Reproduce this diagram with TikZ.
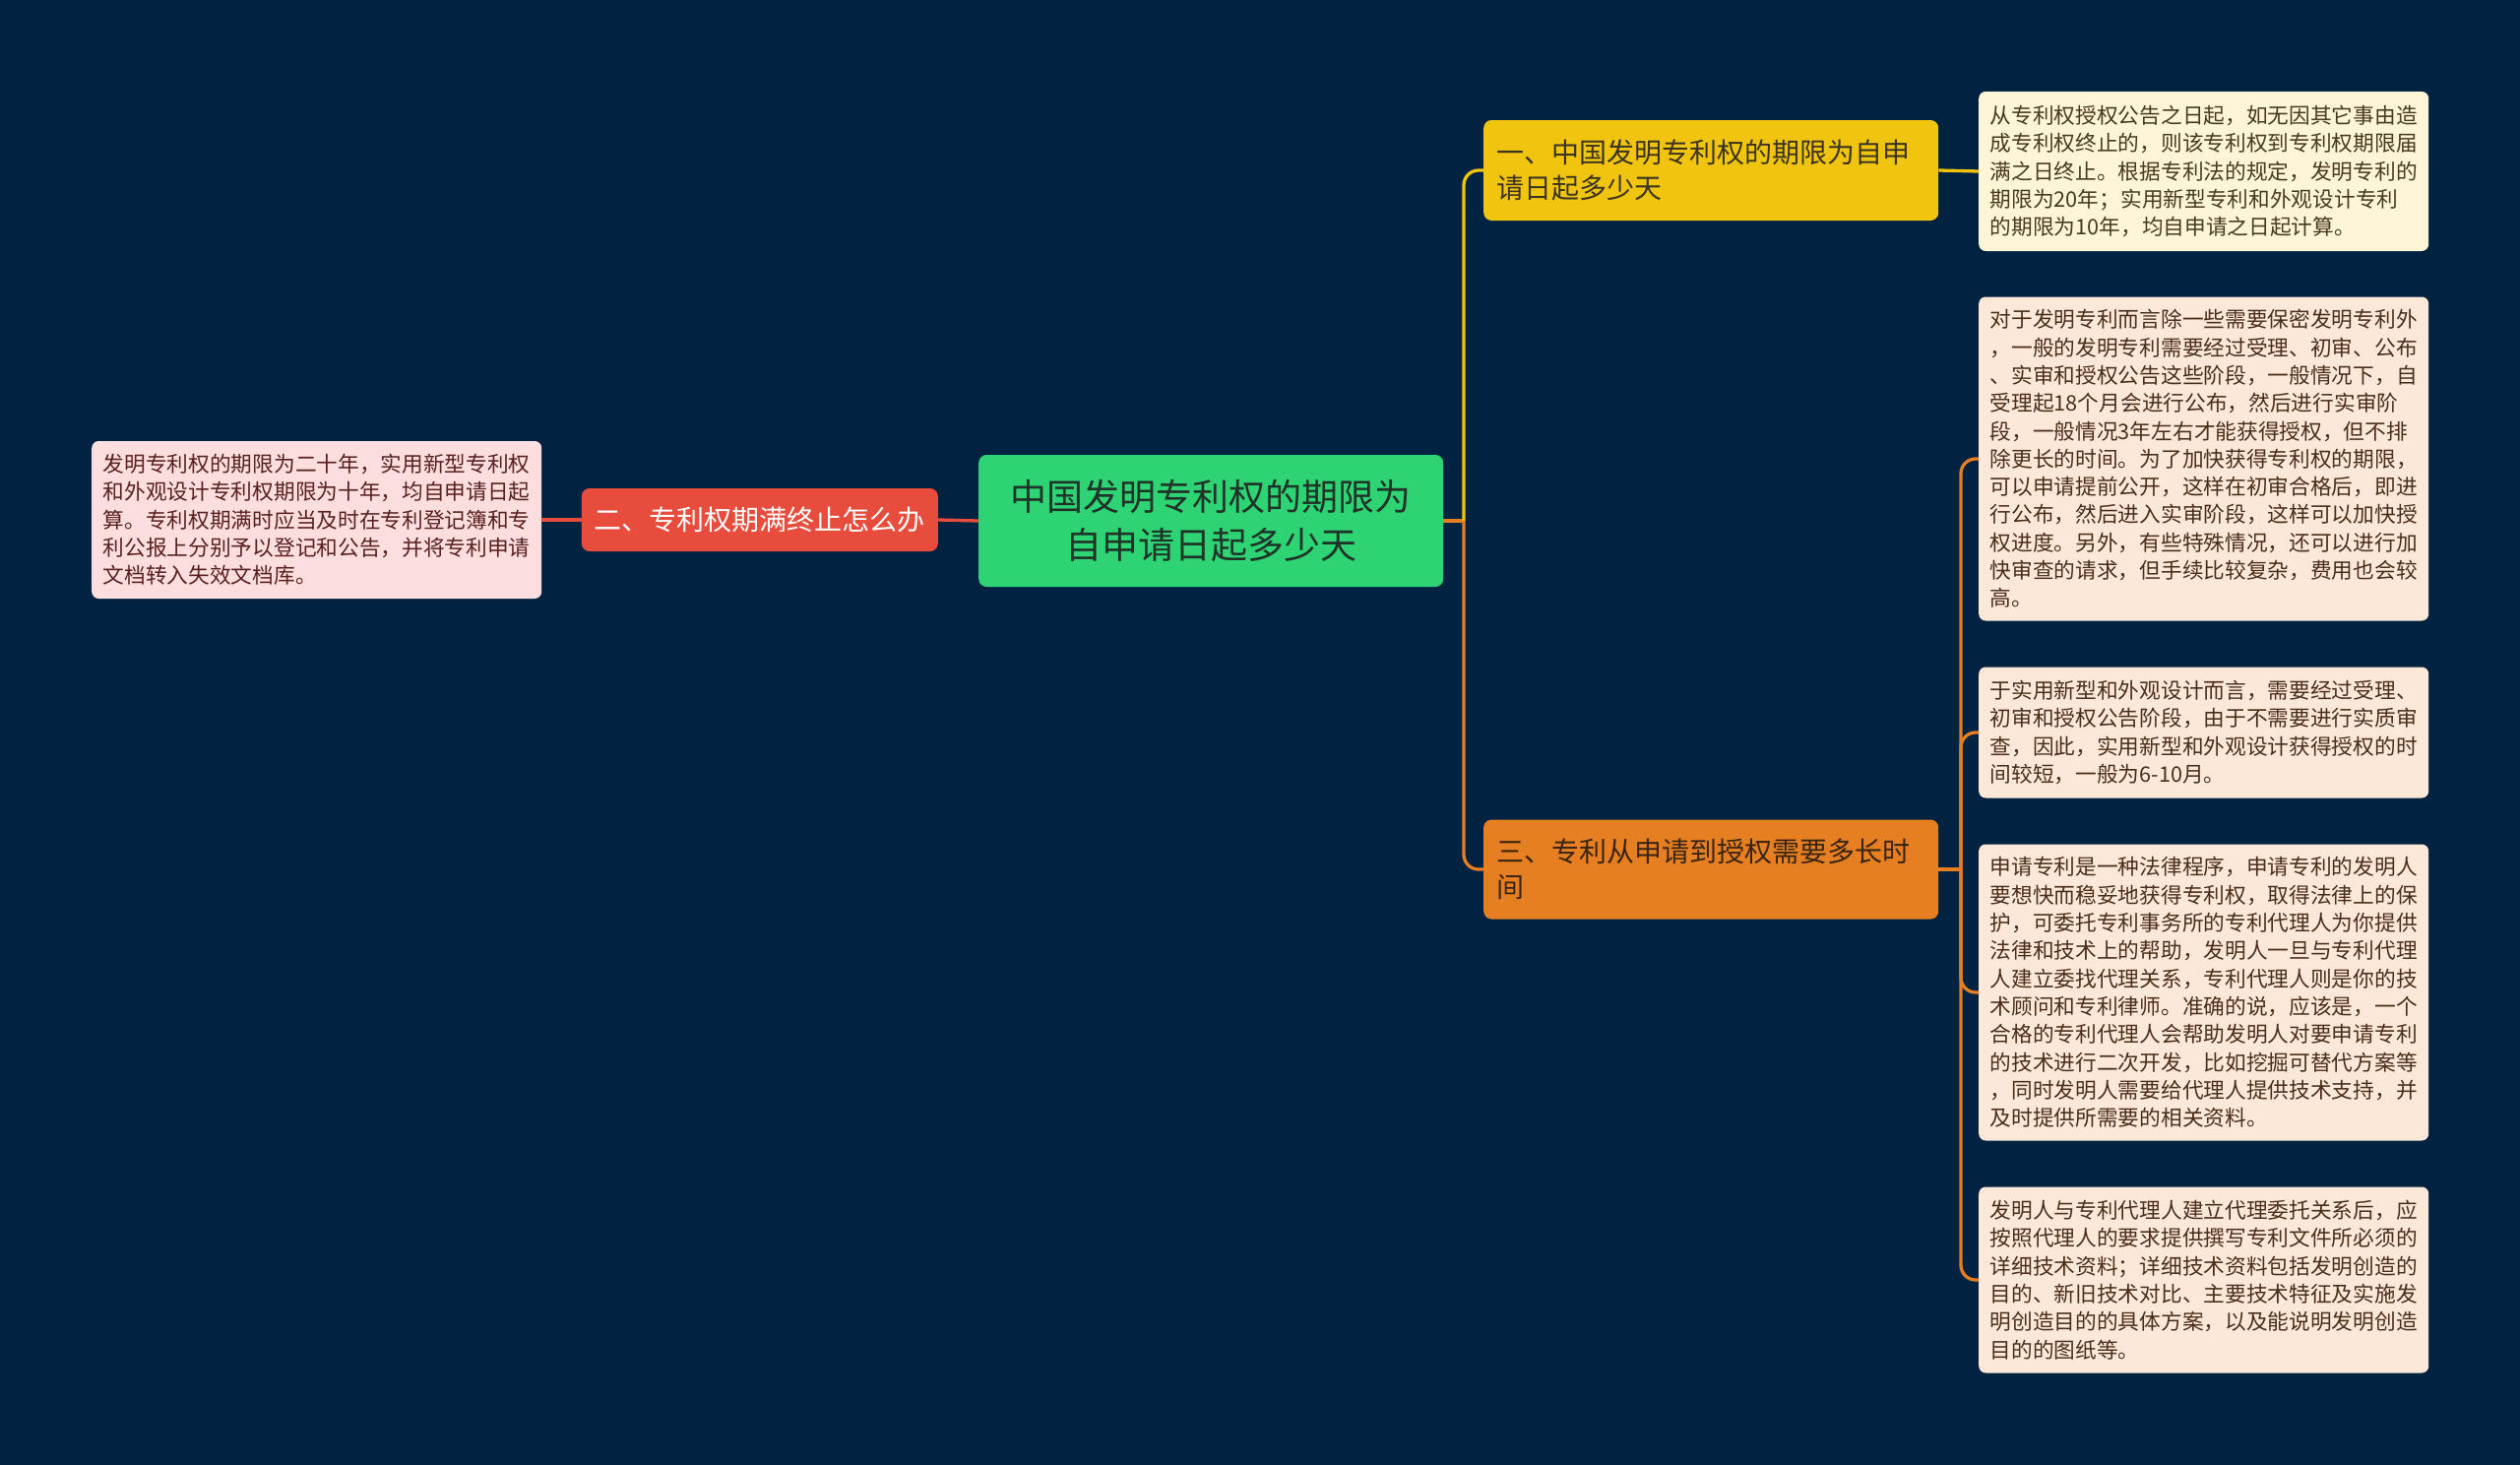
\documentclass[tikz,border=0pt]{standalone}
\usepackage{fontspec}
\setmainfont{Noto Sans CJK SC}
\definecolor{bgc}{RGB}{1,34,64}
\definecolor{rootc}{HTML}{2ED373}
\definecolor{roottxt}{HTML}{1F3328}
\definecolor{redc}{HTML}{E74C3C}
\definecolor{yelc}{HTML}{F1C40F}
\definecolor{yeltxt}{HTML}{3A3420}
\definecolor{orac}{HTML}{E67E22}
\definecolor{oratxt}{HTML}{3A2412}
\definecolor{leafY}{HTML}{FDF5D6}
\definecolor{leafYtxt}{HTML}{4A3A1C}
\definecolor{leafO}{HTML}{FCE8D8}
\definecolor{leafOtxt}{HTML}{4A2E1A}
\definecolor{leafR}{HTML}{FBDEDD}
\definecolor{leafRtxt}{HTML}{5A2020}
\tikzset{
  leafbox/.style={rounded corners=7pt, anchor=west, text width=434pt, inner xsep=11.5pt, inner ysep=6pt, align=left, font=\fontsize{21.7}{28.3}\selectfont},
  topicbox/.style={rounded corners=8pt, anchor=west, inner xsep=13pt, inner ysep=6pt, font=\fontsize{28}{36}\selectfont},
  conn/.style={line width=3.3pt},
}
\begin{document}
\begin{tikzpicture}[x=1pt,y=-1pt]
\fill[bgc] (0,0) rectangle (2560,1488);
\useasboundingbox (0,0) rectangle (2560,1488);

% root
\node[topicbox, fill=rootc, text=roottxt, minimum width=472pt, minimum height=134pt, align=center, font=\fontsize{37}{49}\selectfont] (root) at (994,529) {中国发明专利权的期限为\\自申请日起多少天};

% first level
\node[topicbox, fill=yelc, text=yeltxt, text width=436pt, minimum height=102pt, align=left] (yel) at (1507,173) {一、中国发明专利权的期限为自申\\请日起多少天};
\node[topicbox, fill=orac, text=oratxt, text width=436pt, minimum height=101pt, align=left] (ora) at (1507,883) {三、专利从申请到授权需要多长时\\间};
\node[topicbox, fill=redc, text=white, minimum width=362pt, minimum height=64pt, align=center, anchor=east] (red) at (953,528) {二、专利权期满终止怎么办};

% leaves
\node[leafbox, fill=leafY, text=leafYtxt, minimum height=162pt] (l1) at (2010,174) {从专利权授权公告之日起，如无因其它事由造\\成专利权终止的，则该专利权到专利权期限届\\满之日终止。根据专利法的规定，发明专利的\\期限为20年；实用新型专利和外观设计专利\\的期限为10年，均自申请之日起计算。};

\node[leafbox, fill=leafO, text=leafOtxt, minimum height=329pt] (l2) at (2010,466) {对于发明专利而言除一些需要保密发明专利外\\，一般的发明专利需要经过受理、初审、公布\\、实审和授权公告这些阶段，一般情况下，自\\受理起18个月会进行公布，然后进行实审阶\\段，一般情况3年左右才能获得授权，但不排\\除更长的时间。为了加快获得专利权的期限，\\可以申请提前公开，这样在初审合格后，即进\\行公布，然后进入实审阶段，这样可以加快授\\权进度。另外，有些特殊情况，还可以进行加\\快审查的请求，但手续比较复杂，费用也会较\\高。};

\node[leafbox, fill=leafO, text=leafOtxt, minimum height=133pt] (l3) at (2010,744) {于实用新型和外观设计而言，需要经过受理、\\初审和授权公告阶段，由于不需要进行实质审\\查，因此，实用新型和外观设计获得授权的时\\间较短，一般为6-10月。};

\node[leafbox, fill=leafO, text=leafOtxt, minimum height=301pt] (l4) at (2010,1008) {申请专利是一种法律程序，申请专利的发明人\\要想快而稳妥地获得专利权，取得法律上的保\\护，可委托专利事务所的专利代理人为你提供\\法律和技术上的帮助，发明人一旦与专利代理\\人建立委找代理关系，专利代理人则是你的技\\术顾问和专利律师。准确的说，应该是，一个\\合格的专利代理人会帮助发明人对要申请专利\\的技术进行二次开发，比如挖掘可替代方案等\\，同时发明人需要给代理人提供技术支持，并\\及时提供所需要的相关资料。};

\node[leafbox, fill=leafO, text=leafOtxt, minimum height=189pt] (l5) at (2010,1300) {发明人与专利代理人建立代理委托关系后，应\\按照代理人的要求提供撰写专利文件所必须的\\详细技术资料；详细技术资料包括发明创造的\\目的、新旧技术对比、主要技术特征及实施发\\明创造目的的具体方案，以及能说明发明创造\\目的的图纸等。};

\node[leafbox, fill=leafR, text=leafRtxt, minimum height=160pt] (lr) at (93,528) {发明专利权的期限为二十年，实用新型专利权\\和外观设计专利权期限为十年，均自申请日起\\算。专利权期满时应当及时在专利登记簿和专\\利公报上分别予以登记和公告，并将专利申请\\文档转入失效文档库。};

% junctions
\coordinate (jr) at (1487,529);
\coordinate (jo) at (1992,883);

% connectors
\draw[conn, redc] (root.west) -- (red.east);
\draw[conn, redc] (red.west) -- (lr.east);
\draw[conn, orac] (root.east) -- (jr);
\draw[conn, yelc, rounded corners=15pt] (jr) |- (yel.west);
\draw[conn, orac, rounded corners=15pt] (jr) |- (ora.west);
\draw[conn, yelc] (yel.east) -- (l1.west);
\draw[conn, orac] (ora.east) -- (jo);
\draw[conn, orac, rounded corners=15pt] (jo) |- (l2.west);
\draw[conn, orac, rounded corners=15pt] (jo) |- (l3.west);
\draw[conn, orac, rounded corners=15pt] (jo) |- (l4.west);
\draw[conn, orac, rounded corners=15pt] (jo) |- (l5.west);
\end{tikzpicture}
\end{document}
